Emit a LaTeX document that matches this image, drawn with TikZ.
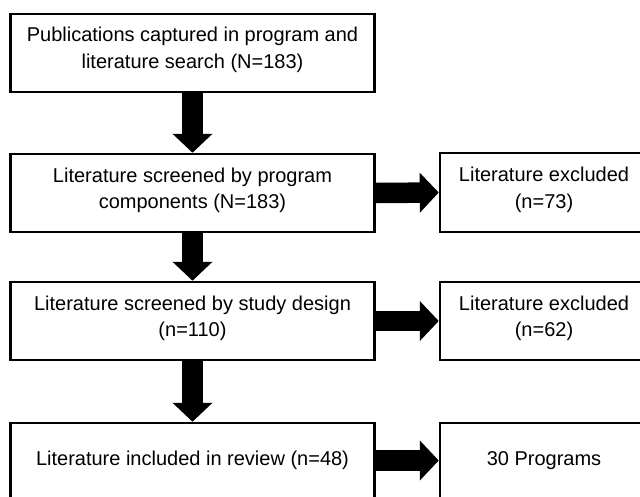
\documentclass[tikz,border=0pt]{standalone}
\usepackage{fontspec}
\setmainfont{Liberation Sans}
\usetikzlibrary{arrows.meta}
\begin{document}
\begin{tikzpicture}[x=1pt,y=-1pt,
  box/.style={draw, line width=2.5pt, rectangle, inner sep=0pt, align=center,
    font=\fontsize{20}{26.5}\selectfont},
  leftbox/.style={box, minimum width=364pt},
  rightbox/.style={box, minimum width=208pt},
  twoline/.style={text depth=10pt},
  fat/.style={line width=20.5pt, line cap=butt,
    -{Triangle[length=19pt 0 0, width=39pt 0 0]}}
]
\useasboundingbox (0,0) rectangle (640,496);
\clip (0,0) rectangle (640,496);
\fill[white] (0,0) rectangle (640,496);

\node[leftbox, twoline, minimum height=78pt] (b1) at (192.5,53)
  {Publications captured in program and\\literature search (N=183)};
\node[leftbox, twoline, minimum height=78pt] (b2) at (192.5,193)
  {Literature screened by program\\components (N=183)};
\node[leftbox, twoline, minimum height=78pt] (b3) at (192.5,321)
  {Literature screened by study design\\(n=110)};
\node[leftbox, minimum height=75pt] (b4) at (192.5,460.5)
  {Literature included in review (n=48)};

\node[rightbox, twoline, minimum height=79pt] (r1) at (544,192.5)
  {Literature excluded\\(n=73)};
\node[rightbox, twoline, minimum height=78pt] (r2) at (544,321)
  {Literature excluded\\(n=62)};
\node[rightbox, minimum height=75pt] (r3) at (544,460.5)
  {30 Programs};

\draw[fat] (b1.south) -- (b2.north);
\draw[fat] (b2.south) -- (b3.north);
\draw[fat] (b3.south) -- (b4.north);
\draw[fat] (b2.east) -- (r1.west);
\draw[fat] (b3.east) -- (r2.west);
\draw[fat] (b4.east) -- (r3.west);
\end{tikzpicture}
\end{document}
